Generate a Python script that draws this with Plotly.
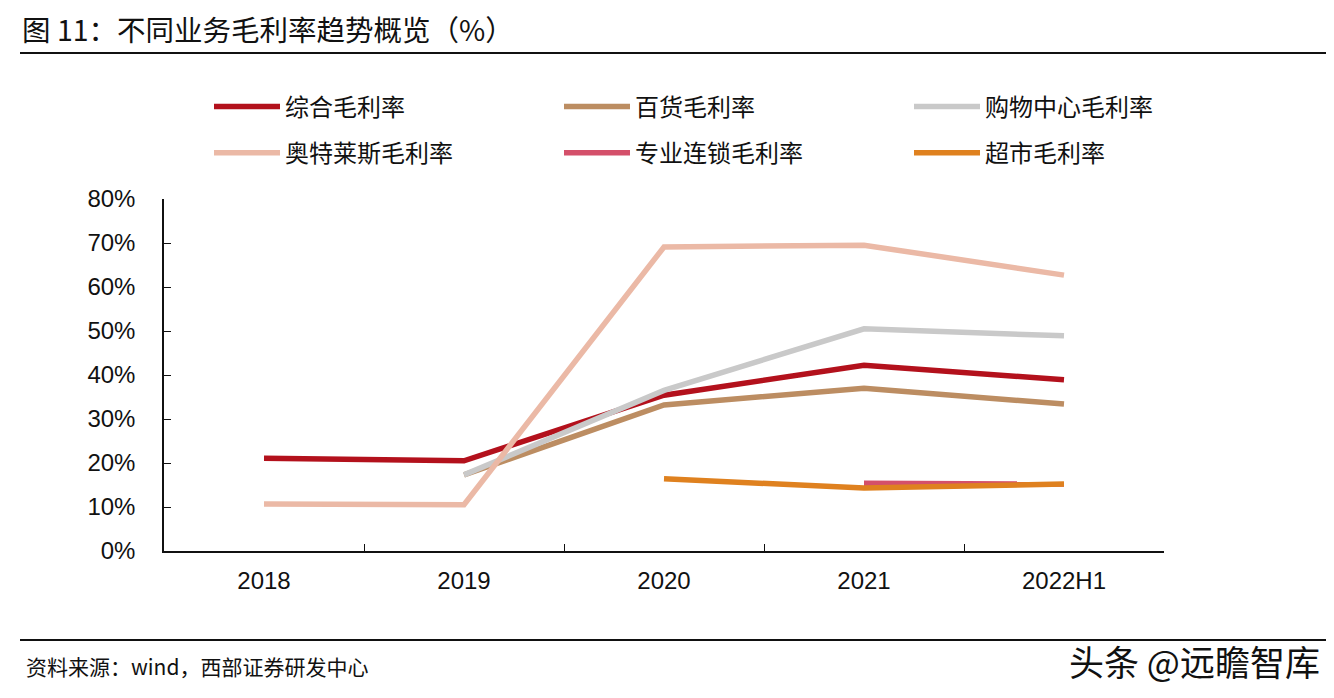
import plotly.graph_objects as go

categories = ["2018", "2019", "2020", "2021", "2022H1"]
series_names = ["综合毛利率", "百货毛利率", "购物中心毛利率", "奥特莱斯毛利率", "专业连锁毛利率", "超市毛利率"]
zonghe = [21.1, 20.5, 35.4, 42.2, 38.9]
baihuo = [None, 17.3, 33.2, 37.0, 33.4]
gouwu = [None, 17.3, 36.5, 50.5, 48.9]
aoteleisi = [10.7, 10.5, 69.1, 69.5, 62.7]
zhuanye = [None, None, None, 15.4, 15.2]
chaoshi = [None, None, 16.4, 14.3, 15.2]
colors = ["#B3111C", "#BC8D62", "#C9C9C9", "#EBB9A6", "#D4506A", "#DF811F"]
legend_cols = ["legend", "legend2", "legend3", "legend", "legend2", "legend3"]

all_values = [zonghe, baihuo, gouwu, aoteleisi, zhuanye, chaoshi]

fig = go.Figure()
for i, (name, vals, col, lg) in enumerate(zip(series_names, all_values, colors, legend_cols)):
    fig.add_trace(go.Scatter(
        x=categories, y=[None if v is None else v / 100 for v in vals],
        mode="lines", name=name, legend=lg, legendgroup="g%d" % i,
        line=dict(color=col, width=5.5),
        connectgaps=False,
    ))

font_cn = "Noto Sans CJK SC"
font_num = "Liberation Sans, Arial"

# page body adds an 8px offset; figure sized to fit inside the window
W, H = 1318, 682
PL, PR, PT, PB = 156, 1156, 191, 543

def px_x(sx):
    return (sx - 164) / 1000.0

def px_y(sy):
    return (551 - sy) / 352.0

legend_common = dict(
    orientation="v", xanchor="left", yanchor="middle",
    itemwidth=66, tracegroupgap=12,
    font=dict(family=font_cn, size=24, color="#111111"),
    bgcolor="rgba(0,0,0,0)",
)

fig.update_layout(
    width=W, height=H,
    paper_bgcolor="white", plot_bgcolor="white",
    margin=dict(l=PL, r=W - PR, t=PT, b=H - PB),
    showlegend=True,
    legend=dict(x=px_x(209), y=px_y(130), **legend_common),
    legend2=dict(x=px_x(559), y=px_y(130), **legend_common),
    legend3=dict(x=px_x(909), y=px_y(130), **legend_common),
    xaxis=dict(
        type="category", range=[-0.5, 4.5],
        showline=True, linecolor="#111111", linewidth=1.5,
        ticks="inside", ticklen=7, tickcolor="#111111", tickwidth=1.2,
        tickson="boundaries", showgrid=False,
        tickfont=dict(family=font_num, size=24, color="#111111"),
        ticklabelstandoff=7,
        zeroline=False,
    ),
    yaxis=dict(
        range=[0, 0.8], dtick=0.1, tickformat=".0%",
        showline=True, linecolor="#111111", linewidth=1.5,
        ticks="inside", ticklen=7, tickcolor="#111111", tickwidth=1.2,
        showgrid=False, zeroline=False,
        tickfont=dict(family=font_num, size=24, color="#111111"),
        ticklabelstandoff=22,
    ),
    annotations=[
        dict(text="图 11：不同业务毛利率趋势概览（%）", xref="paper", yref="paper",
             x=px_x(20), y=px_y(28), xanchor="left", yanchor="middle",
             showarrow=False, font=dict(family=font_cn, size=28.5, color="#111111")),
        dict(text="资料来源：wind，西部证券研发中心", xref="paper", yref="paper",
             x=px_x(24), y=px_y(666), xanchor="left", yanchor="middle",
             showarrow=False, font=dict(family=font_cn, size=21, color="#111111")),
        dict(text="头条 @远瞻智库", xref="paper", yref="paper",
             x=px_x(1322), y=px_y(660), xanchor="right", yanchor="middle",
             showarrow=False, font=dict(family=font_cn, size=35, color="#111111")),
    ],
    shapes=[
        dict(type="line", xref="paper", yref="paper", x0=px_x(20), x1=px_x(1340),
             y0=px_y(53), y1=px_y(53), line=dict(color="#111111", width=2)),
        dict(type="line", xref="paper", yref="paper", x0=px_x(20), x1=px_x(1340),
             y0=px_y(640), y1=px_y(640), line=dict(color="#111111", width=2)),
    ],
)

fig.write_html("out.html")
